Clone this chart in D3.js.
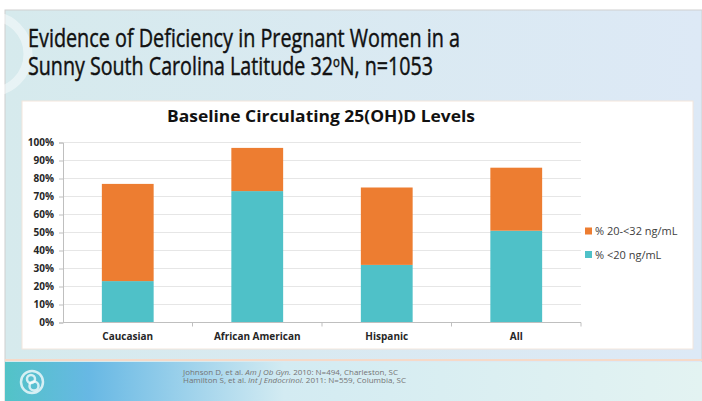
<!DOCTYPE html>
<html lang="en">
<head>
<meta charset="UTF-8">
<title>Evidence of Deficiency in Pregnant Women</title>
<script src="https://d3js.org/d3.v7.min.js"></script>
<style>
    body { margin: 0; background: #fff; }
    svg { display: block; font-family: "Open Sans", sans-serif; }
    .axis path, .axis line { stroke: #bfbfbf; }
    .axis text { fill: #262626; font-size: 10px; font-weight: bold; font-family: "Open Sans", sans-serif; }
    .grid line { stroke: #e6e6e6; }
    .legend text { fill: #404040; font-size: 11px; }
</style>
</head>
<body>
<svg id="chart" width="702" height="401"></svg>
<script>
    const categories = ["Caucasian", "African American", "Hispanic", "All"];
    const seriesNames = ["% <20 ng/mL", "% 20-<32 ng/mL"];
    const below20 = [23, 73, 32, 51];
    const from20to32 = [54, 24, 43, 35];
    const yTicks = [0, 10, 20, 30, 40, 50, 60, 70, 80, 90, 100];
    const colors = ["#4fc1c8", "#ed7d31"];

    const svg = d3.select("#chart");
    const defs = svg.append("defs");

    // slide background
    const bg = defs.append("linearGradient").attr("id", "bg");
    bg.append("stop").attr("offset", "0%").attr("stop-color", "#d6eaed");
    bg.append("stop").attr("offset", "100%").attr("stop-color", "#dde9f6");
    const foot = defs.append("linearGradient").attr("id", "foot");
    foot.append("stop").attr("offset", "0%").attr("stop-color", "#52c3c7");
    foot.append("stop").attr("offset", "12%").attr("stop-color", "#67b8e4");
    foot.append("stop").attr("offset", "40%").attr("stop-color", "#d3ebf2");
    foot.append("stop").attr("offset", "100%").attr("stop-color", "#e3f3f2");

    svg.append("rect").attr("x", 5).attr("y", 10).attr("width", 697).attr("height", 391)
        .attr("fill", "url(#bg)").attr("stroke", "#d0d0d0");
    svg.append("circle").attr("cx", -10).attr("cy", 54).attr("r", 38)
        .attr("fill", "none").attr("stroke", "#fff").attr("stroke-opacity", 0.45).attr("stroke-width", 9);

    // title: squeezed to the reference's narrow face, lightly stroked to get its weight
    const title = svg.append("g").attr("font-size", 26).attr("fill", "#111")
        .attr("stroke", "#111").attr("stroke-width", 0.45);
    title.append("text").attr("x", 28).attr("y", 47)
        .attr("textLength", 432).attr("lengthAdjust", "spacingAndGlyphs")
        .text("Evidence of Deficiency in Pregnant Women in a");
    const t2 = title.append("text").attr("x", 28).attr("y", 75)
        .attr("textLength", 405).attr("lengthAdjust", "spacingAndGlyphs");
    t2.append("tspan").text("Sunny South Carolina Latitude 32");
    t2.append("tspan").attr("font-size", 15).attr("dy", -8).text("o");
    t2.append("tspan").attr("dy", 8).text("N, n=1053");

    // footer
    svg.append("rect").attr("x", 5).attr("y", 359).attr("width", 697).attr("height", 2).attr("fill", "#f6d9c8");
    svg.append("rect").attr("x", 5).attr("y", 362).attr("width", 697).attr("height", 39).attr("fill", "url(#foot)");
    const logo = svg.append("g").attr("transform", "translate(32,382)")
        .attr("fill", "none").attr("stroke", "#fff").attr("stroke-opacity", 0.75).attr("stroke-width", 2.5);
    logo.append("circle").attr("r", 11);
    logo.append("circle").attr("cx", -1).attr("cy", -3).attr("r", 4);
    logo.append("circle").attr("cx", 2).attr("cy", 4).attr("r", 4.5);

    const refs = svg.append("g").attr("font-size", 8).attr("fill", "#747474");
    const r1 = refs.append("text").attr("x", 183).attr("y", 374.5)
        .attr("textLength", 215).attr("lengthAdjust", "spacingAndGlyphs");
    r1.append("tspan").text("Johnson D, et al. ");
    r1.append("tspan").attr("font-style", "italic").text("Am J Ob Gyn.");
    r1.append("tspan").text("  2010: N=494, Charleston,  SC");
    const r2 = refs.append("text").attr("x", 183).attr("y", 382.5)
        .attr("textLength", 223).attr("lengthAdjust", "spacingAndGlyphs");
    r2.append("tspan").text("Hamilton S, et al. ");
    r2.append("tspan").attr("font-style", "italic").text("Int J Endocrinol.");
    r2.append("tspan").text("  2011: N=559, Columbia, SC");

    // chart panel
    svg.append("rect").attr("x", 22).attr("y", 101).attr("width", 671).attr("height", 248)
        .attr("fill", "#fff").attr("stroke", "#f3e6dc").attr("stroke-width", 1);
    svg.append("text").attr("x", 321).attr("y", 122).attr("text-anchor", "middle")
        .attr("font-size", 16.5).attr("font-weight", "bold").attr("fill", "#111")
        .attr("textLength", 308).attr("lengthAdjust", "spacingAndGlyphs")
        .text("Baseline Circulating 25(OH)D Levels");

    const x = d3.scaleBand().domain(categories).range([63, 581]).paddingInner(0.6).paddingOuter(0.3);
    const y = d3.scaleLinear().domain([0, 100]).range([322.5, 142.5]);

    svg.append("g").attr("class", "grid").selectAll("line").data(yTicks.slice(1)).join("line")
        .attr("x1", 63).attr("x2", 581).attr("y1", d => y(d)).attr("y2", d => y(d));

    const rows = categories.map((c, i) => ({ cat: c, s0: below20[i], s1: from20to32[i] }));
    const stack = d3.stack().keys(["s0", "s1"])(rows);
    svg.append("g").selectAll("g").data(stack).join("g")
        .attr("fill", (d, i) => colors[i])
        .selectAll("rect").data(d => d).join("rect")
        .attr("x", d => x(d.data.cat))
        .attr("width", x.bandwidth())
        .attr("y", d => y(d[1]))
        .attr("height", d => y(d[0]) - y(d[1]));

    svg.append("g").attr("class", "axis").attr("transform", "translate(63,0)")
        .call(d3.axisLeft(y).tickValues(yTicks).tickFormat(d => d + "%").tickSize(4).tickPadding(5));

    const xAxis = svg.append("g").attr("class", "axis").attr("transform", "translate(0,322.5)")
        .call(d3.axisBottom(x).tickSize(0).tickPadding(10).tickSizeOuter(0));
    xAxis.select(".domain").attr("d", "M63,0H581");
    xAxis.selectAll(".sep").data(d3.range(1, categories.length + 1)).join("line")
        .attr("class", "sep").attr("stroke", "#bfbfbf")
        .attr("x1", i => 63 + i * x.step()).attr("x2", i => 63 + i * x.step())
        .attr("y1", 0).attr("y2", 4);

    // legend
    const legend = svg.append("g").attr("class", "legend").attr("transform", "translate(585,235)");
    const items = legend.selectAll("g").data([1, 0]).join("g")
        .attr("transform", (d, i) => `translate(0,${i * 23.5})`);
    items.append("rect").attr("x", 0).attr("y", -7.5).attr("width", 7).attr("height", 7)
        .attr("fill", d => colors[d]);
    items.append("text").attr("x", 10).attr("y", 0).text(d => seriesNames[d]);
</script>
</body>
</html>
